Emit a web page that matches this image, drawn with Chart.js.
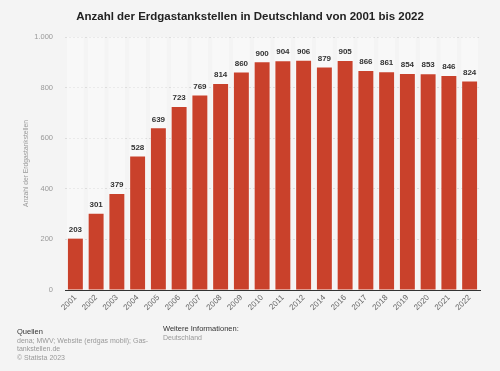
<!DOCTYPE html>
<html><head><meta charset="utf-8">
<script src="https://cdn.jsdelivr.net/npm/chart.js@4.4.0/dist/chart.umd.min.js"></script>
<style>
html,body{margin:0;padding:0;background:#f4f4f4;}
#wrap{position:relative;width:500px;height:371px;font-family:"Liberation Sans",Arial,sans-serif;}
#title{position:absolute;left:0;top:10px;width:500px;text-align:center;font-weight:bold;font-size:11.5px;color:#222;}
canvas{position:absolute;left:0;top:0;}
.f{position:absolute;font-size:7px;line-height:8.5px;color:#999;}
.f b{color:#333;font-weight:normal;font-size:7.5px;}
</style></head>
<body><div id="wrap">
<canvas id="c" width="500" height="371"></canvas>
<div id="title">Anzahl der Erdgastankstellen in Deutschland von 2001 bis 2022</div>
<div class="f" style="left:17px;top:328px;"><b>Quellen</b><br>dena; MWV; Website (erdgas mobil); Gas-<br>tankstellen.de<br>© Statista 2023</div>
<div class="f" style="left:163px;top:325px;"><b>Weitere Informationen:</b><br>Deutschland</div>
</div>
<script>
const categories = ["2001","2002","2003","2004","2005","2006","2007","2008","2009","2010","2011","2012","2014","2016","2017","2018","2019","2020","2021","2022"];
const values = [203,301,379,528,639,723,769,814,860,900,904,906,879,905,866,861,854,853,846,824];
const yTicks = [0,200,400,600,800,1000];
const yTitle = "Anzahl der Erdgastankstellen";

const bandPlugin = {
  id:'bands',
  beforeDatasetsDraw(chart){
    const {ctx, chartArea, scales:{x}} = chart;
    const n = categories.length;
    const w = (chartArea.right - chartArea.left)/n;
    ctx.save();
    ctx.fillStyle = 'rgba(255,255,255,0.4)';
    for(let i=0;i<n;i++){
      const cx = x.getPixelForValue(i);
      ctx.fillRect(cx - w*0.4, chartArea.top, w*0.8, chartArea.bottom-chartArea.top);
    }
    ctx.restore();
  }
};
const labelPlugin = {
  id:'vlabels',
  afterDatasetsDraw(chart){
    const {ctx} = chart;
    const meta = chart.getDatasetMeta(0);
    ctx.save();
    ctx.font = 'bold 8px "Liberation Sans", Arial, sans-serif';
    ctx.fillStyle = '#333';
    ctx.textAlign = 'center';
    ctx.textBaseline = 'bottom';
    meta.data.forEach((bar,i)=>{
      ctx.fillText(String(values[i]), bar.x, bar.y - 5);
    });
    ctx.restore();
  }
};

new Chart(document.getElementById('c'), {
  type:'bar',
  data:{labels:categories, datasets:[{data:values, backgroundColor:'#c9412b', barPercentage:0.72, categoryPercentage:1.0}]},
  options:{
    responsive:false, animation:false,
    layout:{padding:{top:37,left:22,right:20,bottom:46}},
    plugins:{legend:{display:false}, tooltip:{enabled:false}, title:{display:false}},
    scales:{
      x:{
        grid:{display:false, drawTicks:false},
        border:{display:true, color:'#333', width:1},
        ticks:{color:'#666', font:{size:8, family:'"Liberation Sans", Arial, sans-serif'}, maxRotation:45, minRotation:45, padding:3, autoSkip:false},
        afterFit(s){ s.height = 35; }
      },
      y:{
        min:0, max:1000,
        afterBuildTicks(s){ s.ticks = yTicks.map(v=>({value:v})); },
        grid:{color:'#dcdcdc', drawTicks:false},
        border:{display:false, dash:[2,2]},
        ticks:{color:'#999', font:{size:7.5, family:'"Liberation Sans", Arial, sans-serif'}, padding:12,
          callback:(v)=> v>=1000 ? (v/1000)+'.'+String(v%1000).padStart(3,'0') : String(v)},
        title:{display:true, text:yTitle, color:'#999', font:{size:6.7, family:'"Liberation Sans", Arial, sans-serif'}, padding:{top:0,bottom:5}},
        afterFit(s){ s.width = 43; }
      }
    }
  },
  plugins:[bandPlugin,labelPlugin]
});
</script>
</body></html>
